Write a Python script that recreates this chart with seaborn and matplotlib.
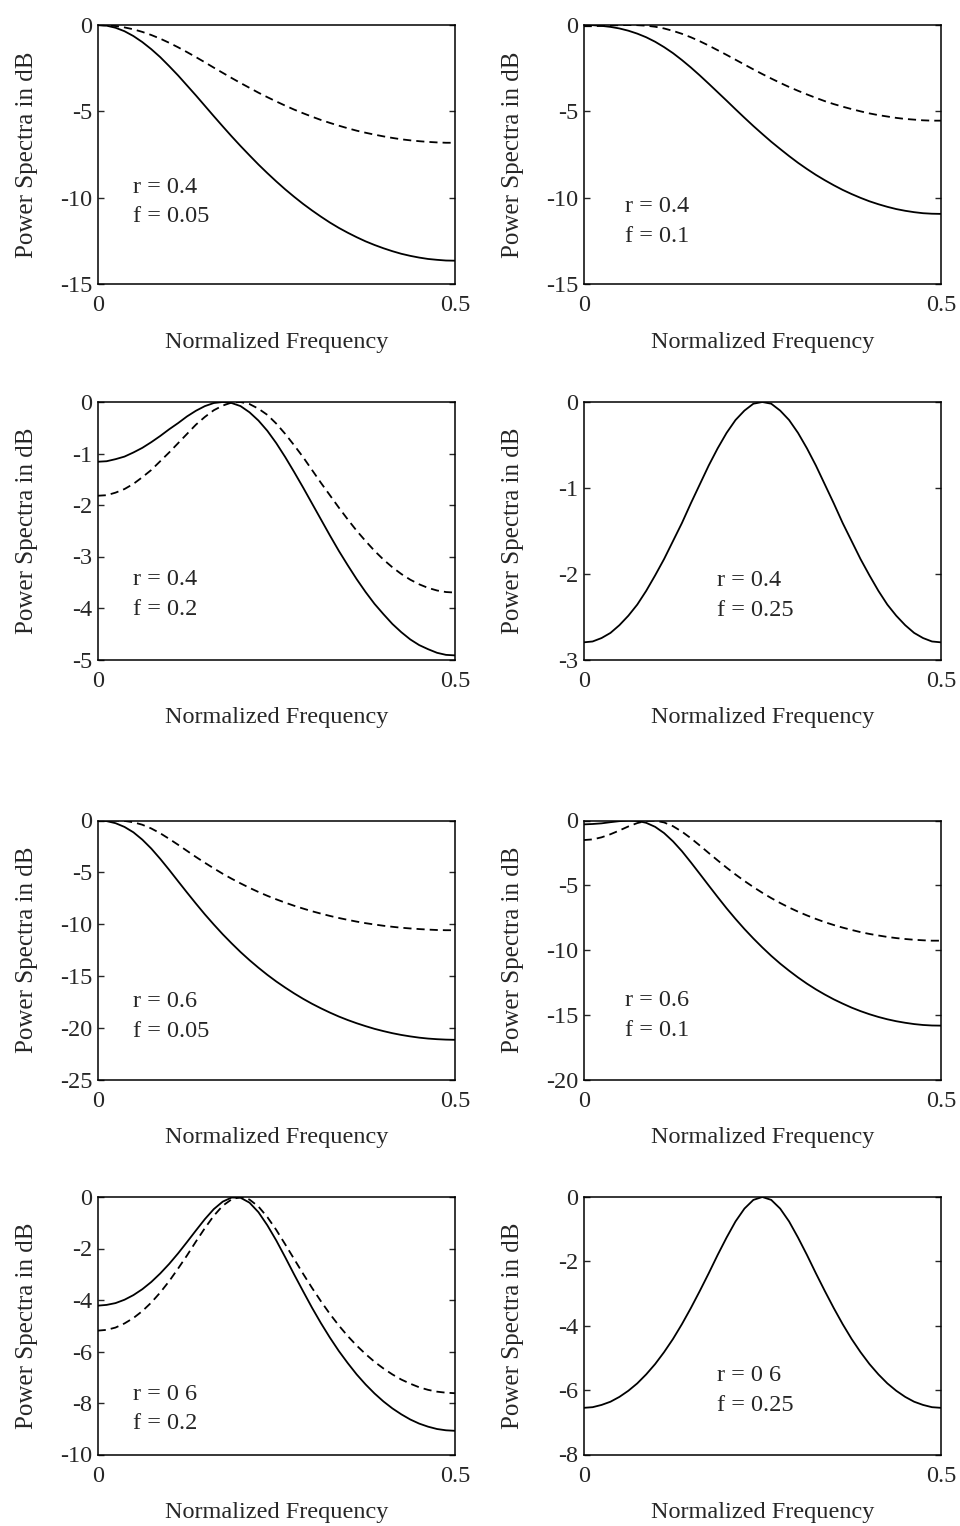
import matplotlib
matplotlib.use("Agg")
import matplotlib.pyplot as plt
import seaborn as sns
import pandas as pd

# ---------------- data (dB values) ----------------
freq = [0.0, 0.0125, 0.025, 0.0375, 0.05, 0.0625, 0.075, 0.0875, 0.1, 0.1125,
        0.125, 0.1375, 0.15, 0.1625, 0.175, 0.1875, 0.2, 0.2125, 0.225, 0.2375,
        0.25, 0.2625, 0.275, 0.2875, 0.3, 0.3125, 0.325, 0.3375, 0.35, 0.3625,
        0.375, 0.3875, 0.4, 0.4125, 0.425, 0.4375, 0.45, 0.4625, 0.475, 0.4875, 0.5]

solid_r04_f005 = [0, -0.04, -0.16, -0.36, -0.64, -0.99, -1.40, -1.86, -2.38, -2.92,
                  -3.50, -4.08, -4.68, -5.28, -5.87, -6.45, -7.01, -7.55, -8.08, -8.58,
                  -9.06, -9.52, -9.95, -10.36, -10.74, -11.10, -11.44, -11.75, -12.03, -12.29,
                  -12.53, -12.74, -12.93, -13.10, -13.25, -13.37, -13.47, -13.55, -13.60, -13.64,
                  -13.65]
dashed_r04_f005 = [0, -0.02, -0.06, -0.14, -0.25, -0.40, -0.58, -0.79, -1.03, -1.29,
                   -1.57, -1.86, -2.16, -2.47, -2.77, -3.07, -3.36, -3.64, -3.92, -4.18,
                   -4.43, -4.67, -4.90, -5.11, -5.31, -5.50, -5.67, -5.83, -5.98, -6.12,
                   -6.24, -6.35, -6.45, -6.54, -6.62, -6.68, -6.73, -6.77, -6.80, -6.82,
                   -6.82]

solid_r04_f01 = [0, -0.01, -0.05, -0.11, -0.20, -0.33, -0.50, -0.71, -0.97, -1.28,
                 -1.63, -2.03, -2.46, -2.92, -3.40, -3.89, -4.38, -4.88, -5.37, -5.85,
                 -6.31, -6.76, -7.18, -7.59, -7.98, -8.34, -8.68, -8.99, -9.28, -9.55,
                 -9.79, -10.01, -10.21, -10.38, -10.53, -10.66, -10.76, -10.84, -10.90, -10.93,
                 -10.94]
dashed_r04_f01 = [-0.07, -0.07, -0.05, -0.03, -0.01, 0.00, -0.01, -0.04, -0.10, -0.20,
                  -0.34, -0.51, -0.71, -0.94, -1.19, -1.46, -1.73, -2.01, -2.29, -2.57,
                  -2.84, -3.10, -3.35, -3.59, -3.81, -4.02, -4.22, -4.41, -4.58, -4.73,
                  -4.87, -5.00, -5.12, -5.22, -5.30, -5.38, -5.44, -5.48, -5.52, -5.54,
                  -5.54]

solid_r04_f02 = [-1.16, -1.15, -1.11, -1.06, -0.98, -0.89, -0.78, -0.66, -0.53, -0.41,
                 -0.28, -0.17, -0.08, -0.02, 0.00, -0.02, -0.08, -0.20, -0.36, -0.56,
                 -0.80, -1.07, -1.36, -1.66, -1.97, -2.28, -2.59, -2.89, -3.17, -3.44,
                 -3.69, -3.92, -4.12, -4.31, -4.47, -4.61, -4.72, -4.80, -4.87, -4.91,
                 -4.92]
dashed_r04_f02 = [-1.82, -1.81, -1.76, -1.69, -1.59, -1.46, -1.32, -1.15, -0.98, -0.80,
                  -0.62, -0.44, -0.29, -0.16, -0.07, -0.01, 0.00, -0.04, -0.13, -0.25,
                  -0.42, -0.62, -0.84, -1.07, -1.32, -1.57, -1.81, -2.05, -2.28, -2.50,
                  -2.70, -2.89, -3.06, -3.21, -3.34, -3.45, -3.54, -3.61, -3.66, -3.69,
                  -3.70]

solid_r04_f025 = [-2.80, -2.79, -2.75, -2.69, -2.60, -2.49, -2.36, -2.20, -2.02, -1.83,
                  -1.62, -1.41, -1.18, -0.96, -0.74, -0.54, -0.36, -0.21, -0.10, -0.02,
                  0.00, -0.02, -0.10, -0.21, -0.36, -0.54, -0.74, -0.96, -1.18, -1.41,
                  -1.62, -1.83, -2.02, -2.20, -2.36, -2.49, -2.60, -2.69, -2.75, -2.79,
                  -2.80]

solid_r06_f005 = [0, -0.06, -0.26, -0.62, -1.14, -1.85, -2.71, -3.70, -4.76, -5.86,
                  -6.95, -8.02, -9.06, -10.04, -10.98, -11.86, -12.70, -13.48, -14.21, -14.90,
                  -15.54, -16.13, -16.69, -17.21, -17.69, -18.13, -18.54, -18.92, -19.26, -19.57,
                  -19.85, -20.11, -20.33, -20.53, -20.70, -20.84, -20.96, -21.05, -21.11, -21.15,
                  -21.17]
dashed_r06_f005 = [-0.01, 0.00, 0.00, -0.04, -0.17, -0.41, -0.77, -1.23, -1.77, -2.34,
                   -2.93, -3.52, -4.08, -4.62, -5.14, -5.62, -6.07, -6.50, -6.90, -7.27,
                   -7.61, -7.93, -8.23, -8.50, -8.76, -8.99, -9.21, -9.41, -9.59, -9.76,
                   -9.91, -10.04, -10.16, -10.26, -10.35, -10.42, -10.48, -10.53, -10.57, -10.59,
                   -10.59]

solid_r06_f01 = [-0.30, -0.27, -0.22, -0.13, -0.05, 0.00, -0.03, -0.18, -0.49, -0.97,
                 -1.61, -2.37, -3.23, -4.12, -5.02, -5.91, -6.78, -7.60, -8.38, -9.11,
                 -9.80, -10.45, -11.05, -11.60, -12.12, -12.60, -13.04, -13.44, -13.81, -14.14,
                 -14.45, -14.72, -14.96, -15.17, -15.35, -15.50, -15.62, -15.72, -15.79, -15.83,
                 -15.84]
dashed_r06_f01 = [-1.51, -1.46, -1.30, -1.06, -0.77, -0.46, -0.20, -0.03, -0.01, -0.15,
                  -0.44, -0.86, -1.37, -1.93, -2.51, -3.08, -3.64, -4.17, -4.67, -5.14,
                  -5.58, -5.99, -6.37, -6.72, -7.04, -7.33, -7.60, -7.85, -8.07, -8.27,
                  -8.45, -8.62, -8.76, -8.88, -8.99, -9.08, -9.15, -9.21, -9.25, -9.28,
                  -9.28]

solid_r06_f02 = [-4.22, -4.19, -4.12, -3.99, -3.81, -3.58, -3.30, -2.97, -2.60, -2.19,
                 -1.75, -1.30, -0.86, -0.47, -0.18, -0.02, -0.03, -0.22, -0.59, -1.10,
                 -1.69, -2.34, -3.01, -3.66, -4.30, -4.90, -5.46, -5.98, -6.45, -6.89,
                 -7.28, -7.63, -7.94, -8.21, -8.44, -8.64, -8.80, -8.92, -9.01, -9.06,
                 -9.08]
dashed_r06_f02 = [-5.19, -5.16, -5.07, -4.91, -4.70, -4.43, -4.10, -3.71, -3.27, -2.78,
                  -2.27, -1.73, -1.21, -0.73, -0.34, -0.09, 0.00, -0.10, -0.37, -0.78,
                  -1.28, -1.84, -2.41, -2.98, -3.53, -4.05, -4.54, -4.99, -5.40, -5.77,
                  -6.10, -6.40, -6.66, -6.89, -7.09, -7.25, -7.39, -7.49, -7.56, -7.60,
                  -7.62]

solid_r06_f025 = [-6.55, -6.53, -6.46, -6.36, -6.21, -6.02, -5.79, -5.51, -5.19, -4.82,
                  -4.41, -3.95, -3.45, -2.92, -2.37, -1.80, -1.26, -0.76, -0.36, -0.09,
                  0.00, -0.09, -0.36, -0.76, -1.26, -1.80, -2.37, -2.92, -3.45, -3.95,
                  -4.41, -4.82, -5.19, -5.51, -5.79, -6.02, -6.21, -6.36, -6.46, -6.53,
                  -6.55]

yticks_15 = [0, -5, -10, -15]
yticks_5 = [0, -1, -2, -3, -4, -5]
yticks_3 = [0, -1, -2, -3]
yticks_25 = [0, -5, -10, -15, -20, -25]
yticks_20 = [0, -5, -10, -15, -20]
yticks_10 = [0, -2, -4, -6, -8, -10]
yticks_8 = [0, -2, -4, -6, -8]
xticks = [0, 0.5]
xtick_labels = ["0", "0.5"]

r_texts = ["r = 0.4", "r = 0.4", "r = 0.4", "r = 0.4",
           "r = 0.6", "r = 0.6", "r = 0 6", "r = 0 6"]
f_texts = ["f = 0.05", "f = 0.1", "f = 0.2", "f = 0.25",
           "f = 0.05", "f = 0.1", "f = 0.2", "f = 0.25"]

# ---------------- styling ----------------
sns.set_style("ticks")
plt.rcParams["font.family"] = ["Liberation Serif", "DejaVu Serif"]
plt.rcParams["axes.unicode_minus"] = False

fig = plt.figure(figsize=(9.6, 15.26), dpi=100)

W, H = 960.0, 1526.0
col_left = [97.7, 583.7]
col_width = 357.2
rows = [(25, 284), (402, 659.5), (820.5, 1079.5), (1197, 1454.5)]

panels = [
    (solid_r04_f005, dashed_r04_f005, yticks_15, (0.099, 0.351, 0.239)),
    (solid_r04_f01, dashed_r04_f01, yticks_15, (0.116, 0.279, 0.163)),
    (solid_r04_f02, dashed_r04_f02, yticks_5, (0.099, 0.288, 0.171)),
    (solid_r04_f025, None, yticks_3, (0.3725, 0.284, 0.168)),
    (solid_r06_f005, dashed_r06_f005, yticks_25, (0.099, 0.279, 0.163)),
    (solid_r06_f01, dashed_r06_f01, yticks_20, (0.116, 0.283, 0.167)),
    (solid_r06_f02, dashed_r06_f02, yticks_10, (0.099, 0.210, 0.100)),
    (solid_r06_f025, None, yticks_8, (0.3725, 0.285, 0.168)),
]

FS = 17.5
for i, (solid, dashed, yt, tpos) in enumerate(panels):
    row, col = divmod(i, 2)
    top, bot = rows[row]
    ax = fig.add_axes([col_left[col] / W, (H - bot) / H, col_width / W, (bot - top) / H])

    frames = [pd.DataFrame({"freq": freq, "dB": solid, "curve": "solid"})]
    if dashed is not None:
        frames.append(pd.DataFrame({"freq": freq, "dB": dashed, "curve": "dashed"}))
    df = pd.concat(frames, ignore_index=True)
    order = ["solid", "dashed"] if dashed is not None else ["solid"]
    dash_map = {"solid": "", "dashed": (4.5, 2.8)}
    sns.lineplot(data=df, x="freq", y="dB", style="curve", style_order=order,
                 dashes={k: dash_map[k] for k in order}, color="black",
                 linewidth=1.3, estimator=None, sort=False, legend=False, ax=ax)

    ax.set_xlim(0, 0.5)
    ax.set_ylim(min(yt), 0)
    ax.set_xticks(xticks)
    ax.set_xticklabels(xtick_labels)
    ax.set_yticks(yt)
    ax.set_yticklabels([str(v) for v in yt])
    ax.tick_params(axis="y", direction="in", length=4.5, width=1.0,
                   left=True, right=True, labelsize=FS, pad=4)
    ax.tick_params(axis="x", length=0, labelsize=FS, pad=8)
    for s in ax.spines.values():
        s.set_linewidth(1.1)
        s.set_color("black")
        s.set_visible(True)

    ax.set_ylabel("Power Spectra in dB", fontsize=18)
    ax.yaxis.set_label_coords(-0.166, 0.5)
    ax.set_xlabel("Normalized Frequency", fontsize=FS)
    ax.xaxis.set_label_coords(0.5, -0.185)

    tx, ty1, ty2 = tpos
    ax.text(tx, ty1, r_texts[i], transform=ax.transAxes, fontsize=FS,
            ha="left", va="baseline")
    ax.text(tx, ty2, f_texts[i], transform=ax.transAxes, fontsize=FS,
            ha="left", va="baseline")

fig.savefig("out.png", dpi=100, facecolor="white")
